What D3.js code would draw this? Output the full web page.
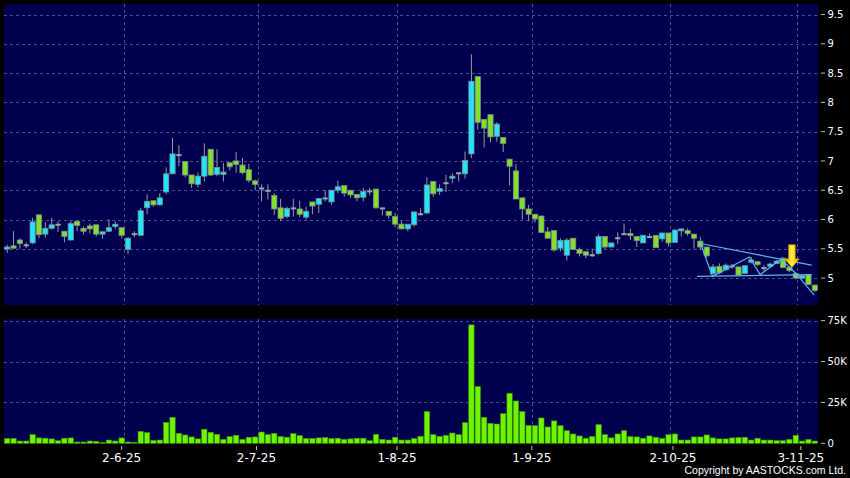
<!DOCTYPE html>
<html><head><meta charset="utf-8">
<script src="https://cdn.jsdelivr.net/npm/d3@7"></script>
<style>html,body{margin:0;padding:0;background:#000;}svg{display:block;}</style>
</head><body>
<script>
// ---- data ----
const opens  = [5.50,5.55,5.65,5.56,5.60,6.08,5.75,5.85,5.91,5.80,5.65,5.97,5.85,5.89,5.91,5.75,5.80,5.88,5.86,5.49,
                5.75,5.73,6.20,6.32,6.25,6.47,6.78,7.10,6.99,6.76,6.60,6.74,7.20,6.77,6.77,6.97,7.00,6.93,6.85,6.66,
                6.53,6.49,6.41,6.20,6.05,6.19,6.18,6.04,6.30,6.26,6.36,6.30,6.50,6.58,6.50,6.43,6.38,6.48,6.52,6.19,
                6.14,6.05,5.92,5.84,5.91,6.09,6.11,6.65,6.48,6.62,6.71,6.79,6.78,7.12,8.44,7.71,7.79,7.42,7.40,7.03,
                6.83,6.37,6.18,6.09,6.06,5.79,5.81,5.51,5.39,5.68,5.49,5.45,5.39,5.42,5.71,5.53,5.68,5.75,5.76,5.71,
                5.60,5.70,5.73,5.67,5.77,5.61,5.81,5.81,5.75,5.63,5.53,5.08,5.20,5.14,5.20,5.19,5.08,5.27,5.28,5.17,
                5.20,5.25,5.34,5.18,5.08,5.00,5.06,4.88];
const highs  = [5.57,5.80,5.68,5.61,6.03,6.08,5.96,6.03,5.97,5.80,5.97,5.98,5.88,5.93,5.91,5.80,6.00,5.97,5.86,5.70,
                5.80,6.20,6.43,6.33,6.45,6.89,7.39,7.27,6.99,6.76,6.80,7.30,7.20,7.20,6.97,6.97,7.15,7.05,6.95,6.68,
                6.60,6.60,6.45,6.35,6.22,6.35,6.32,6.22,6.30,6.36,6.50,6.50,6.66,6.58,6.50,6.43,6.54,6.54,6.52,6.19,
                6.14,6.11,5.97,5.92,6.13,6.19,6.72,6.65,6.60,6.76,6.79,6.79,7.16,8.82,8.44,7.71,7.79,7.66,7.40,7.03,
                6.95,6.37,6.25,6.09,6.06,5.87,5.81,5.68,5.68,5.68,5.52,5.45,5.50,5.75,5.71,5.60,5.78,5.93,5.84,5.71,
                5.73,5.76,5.73,5.77,5.77,5.83,5.84,5.85,5.75,5.70,5.53,5.24,5.25,5.25,5.24,5.20,5.22,5.36,5.29,5.22,
                5.26,5.31,5.36,5.20,5.10,5.05,5.06,4.89];
const lows   = [5.43,5.50,5.50,5.51,5.58,5.68,5.69,5.83,5.79,5.61,5.64,5.80,5.74,5.76,5.71,5.67,5.79,5.84,5.68,5.41,
                5.70,5.73,6.09,6.22,6.24,6.43,6.78,6.91,6.72,6.54,6.55,6.65,6.74,6.74,6.65,6.84,6.80,6.77,6.63,6.50,
                6.31,6.34,6.08,5.97,6.02,6.05,6.04,6.00,6.09,6.11,6.31,6.25,6.45,6.39,6.37,6.31,6.31,6.41,6.18,6.07,
                6.02,5.87,5.83,5.80,5.88,6.07,6.10,6.39,6.42,6.47,6.62,6.65,6.70,7.05,7.53,7.23,7.32,7.33,7.15,6.58,
                6.35,6.00,5.97,5.95,5.77,5.68,5.45,5.46,5.30,5.48,5.37,5.34,5.36,5.40,5.49,5.53,5.58,5.74,5.65,5.53,
                5.60,5.68,5.51,5.62,5.54,5.60,5.71,5.72,5.50,5.48,5.35,5.06,5.07,5.13,5.16,5.04,5.07,5.25,5.20,5.12,
                5.18,5.24,5.17,5.10,4.98,4.98,4.88,4.76];
const closes = [5.53,5.51,5.59,5.56,5.96,5.74,5.85,5.91,5.91,5.71,5.93,5.90,5.80,5.84,5.75,5.79,5.86,5.92,5.73,5.68,
                5.75,6.15,6.31,6.25,6.37,6.78,7.12,7.10,6.76,6.61,6.74,7.08,6.76,6.89,6.81,6.90,6.94,6.80,6.67,6.60,
                6.53,6.49,6.18,6.02,6.19,6.19,6.09,6.14,6.23,6.36,6.36,6.50,6.56,6.45,6.42,6.37,6.48,6.48,6.20,6.19,
                6.07,5.92,5.84,5.92,6.13,6.09,6.59,6.44,6.53,6.62,6.74,6.79,7.01,8.36,7.66,7.56,7.41,7.63,7.30,6.91,
                6.35,6.18,6.09,6.01,5.78,5.68,5.48,5.64,5.65,5.49,5.42,5.39,5.39,5.71,5.53,5.60,5.68,5.75,5.73,5.64,
                5.73,5.70,5.52,5.77,5.60,5.82,5.84,5.76,5.68,5.53,5.38,5.19,5.09,5.22,5.20,5.05,5.21,5.31,5.23,5.17,
                5.24,5.29,5.18,5.13,5.00,5.04,4.89,4.79];
const volumesK = [2.9,2.9,1.4,1.4,5.3,3.3,3.1,2.7,1.6,3.1,3.3,0.8,0.8,1.4,1.2,0.6,2.0,1.4,3.3,0.8,
                  0.6,7.3,6.5,1.8,2.0,12.8,15.9,6.1,5.1,3.9,2.7,8.6,6.7,5.5,2.4,4.1,4.9,2.4,3.7,3.9,
                  6.9,5.3,6.1,4.1,3.7,5.9,4.7,2.9,2.9,3.3,3.5,2.9,3.1,2.4,2.7,3.1,3.1,1.6,5.5,2.4,
                  2.0,3.7,2.0,2.0,2.9,4.3,19.4,5.3,4.3,4.9,6.3,5.3,12.6,72.4,34.7,15.9,12.2,11.8,18.1,30.6,
                  25.9,19.4,11.0,10.8,15.5,10.0,13.7,10.8,7.7,5.7,4.5,3.1,4.1,11.4,5.3,3.3,5.7,7.7,4.1,3.9,
                  3.1,4.5,3.7,2.9,5.3,5.7,2.0,2.0,3.9,3.9,5.1,3.3,2.7,2.7,3.3,3.5,3.7,2.0,3.1,2.0,
                  2.0,1.6,1.6,2.4,4.9,1.4,2.4,1.4];
const priceTicks  = [5, 5.5, 6, 6.5, 7, 7.5, 8, 8.5, 9, 9.5];
const volumeTicks = [0, 25, 50, 75];
const volumeTickLabels = ["0", "25K", "50K", "75K"];
const dateTickLabels = ["2-6-25", "2-7-25", "1-8-25", "1-9-25", "2-10-25", "3-11-25"];
const dateTickAt     = [18.0, 39.2, 61.3, 82.5, 104.7, 124.8];   // bar index
const dateGridAt     = [18.4, 39.5, 61.3, 82.5, 104.3, 124.2];   // bar index
// annotation (pattern lines drawn on the chart), in bar-index / price units
const upperTrend = [[109, 5.59], [126.5, 5.22]];
const lowerTrend = [[108.5, 5.03], [126.5, 5.06]];
const zigzag = [[109, 5.60], [110.9, 5.03], [116.7, 5.36], [118.4, 5.06], [121.7, 5.32], [124.1, 5.07], [126.9, 4.71]];
const arrowAt = {index: 123.4, top: 5.57, tip: 5.18};
const copyright = "Copyright by AASTOCKS.com Ltd.";

// ---- layout ----
const W = 850, H = 478;
const L = 4, R = 818;
const pTop = 4, pBot = 305, vTop = 319, vBot = 443.3;
const N = closes.length;

const svg = d3.select("body").append("svg").attr("width", W).attr("height", H);
svg.append("rect").attr("width", W).attr("height", H).attr("fill", "#000");

const xBand = d3.scaleBand().domain(d3.range(N)).range([L, R]).padding(0);
const xC = d3.scaleLinear().domain([-0.5, N - 0.5]).range([L, R]);
const yP = d3.scaleLinear().domain([4.54, 9.68]).range([pBot, pTop]);
const yV = d3.scaleLinear().domain([0, 76]).range([vBot, vTop]);

const navy = "#00004e";
svg.append("rect").attr("x", L).attr("y", pTop).attr("width", R - L).attr("height", pBot - pTop).attr("fill", navy);
svg.append("rect").attr("x", L).attr("y", vTop).attr("width", R - L).attr("height", vBot - vTop).attr("fill", navy);

const gridCol = "#4c4c8e";
const grid = svg.append("g").attr("stroke", gridCol).attr("stroke-width", 1).attr("stroke-dasharray", "3,3");
priceTicks.forEach(t => grid.append("line").attr("x1", L).attr("x2", R)
  .attr("y1", Math.round(yP(t)) + 0.5).attr("y2", Math.round(yP(t)) + 0.5));
volumeTicks.filter(t => t > 0).forEach(t => grid.append("line").attr("x1", L).attr("x2", R)
  .attr("y1", Math.round(yV(t)) + 0.5).attr("y2", Math.round(yV(t)) + 0.5));
dateGridAt.forEach(i => {
  const x = Math.round(xC(i)) + 0.5;
  grid.append("line").attr("x1", x).attr("x2", x).attr("y1", pTop).attr("y2", pBot);
  grid.append("line").attr("x1", x).attr("x2", x).attr("y1", vTop).attr("y2", vBot);
});

// ---- candles ----
const bw = xBand.bandwidth() * 0.82;
const cyan = "#1fe6ff", green = "#82e02c", doji = "#9aa3b5", wickCol = "#9a9a9a", edge = "#7d8c8c";
const cg = svg.append("g");
d3.range(N).forEach(i => {
  const cx = xC(i);
  const o = opens[i], c = closes[i];
  cg.append("line").attr("x1", cx).attr("x2", cx).attr("y1", yP(highs[i])).attr("y2", yP(lows[i]))
    .attr("stroke", wickCol).attr("stroke-width", 1);
  if (o === c) {
    cg.append("rect").attr("x", cx - bw / 2).attr("y", yP(o) - 1).attr("width", bw).attr("height", 2)
      .attr("fill", doji);
  } else {
    const top = yP(Math.max(o, c)), bot = yP(Math.min(o, c));
    cg.append("rect").attr("x", cx - bw / 2).attr("y", top).attr("width", bw).attr("height", Math.max(2, bot - top))
      .attr("fill", c > o ? cyan : green).attr("stroke", edge).attr("stroke-width", 0.8);
  }
});

// ---- pattern annotation ----
const line = d3.line().x(d => xC(d[0])).y(d => yP(d[1]));
const ann = svg.append("g").attr("fill", "none").attr("stroke", "#5fb4ea").attr("stroke-width", 1.2);
ann.append("path").attr("d", line(upperTrend));
ann.append("path").attr("d", line(lowerTrend));
ann.append("path").attr("d", line(zigzag));

// yellow arrow
const defs = svg.append("defs");
const gr = defs.append("linearGradient").attr("id", "arrowGrad").attr("x1", "0").attr("x2", "1").attr("y1", "0").attr("y2", "0");
gr.append("stop").attr("offset", "0%").attr("stop-color", "#f0a000");
gr.append("stop").attr("offset", "50%").attr("stop-color", "#fff23a");
gr.append("stop").attr("offset", "100%").attr("stop-color", "#f0a000");
const ax = xC(arrowAt.index), aTop = yP(arrowAt.top), aTip = yP(arrowAt.tip);
const headH = (aTip - aTop) * 0.38, shaftW = 3.4, headW = 7.4;
svg.append("path").attr("fill", "url(#arrowGrad)").attr("stroke", "#c98a00").attr("stroke-width", 0.6)
  .attr("d", `M${ax - shaftW},${aTop} L${ax + shaftW},${aTop} L${ax + shaftW},${aTip - headH} L${ax + headW},${aTip - headH} L${ax},${aTip} L${ax - headW},${aTip - headH} L${ax - shaftW},${aTip - headH} Z`);

// ---- volume ----
const vw = xBand.bandwidth() * 0.84;
svg.append("g").selectAll("rect").data(volumesK).join("rect")
  .attr("x", (d, i) => xC(i) - vw / 2).attr("y", d => yV(d)).attr("width", vw)
  .attr("height", d => vBot - yV(d))
  .attr("fill", "#6cf400").attr("stroke", "#3f9a00").attr("stroke-width", 0.6);

// ---- axes / labels ----
const font = "'DejaVu Sans', Verdana, sans-serif";
const axG = svg.append("g").attr("fill", "#fff").attr("font-family", font);
priceTicks.forEach(t => {
  const y = yP(t);
  svg.append("line").attr("x1", 821).attr("x2", 825).attr("y1", y).attr("y2", y).attr("stroke", "#bbb");
  axG.append("text").attr("x", 827.5).attr("y", y).attr("dy", "0.36em").attr("font-size", 10).text(t);
});
volumeTicks.forEach((t, k) => {
  const y = yV(t);
  svg.append("line").attr("x1", 821).attr("x2", 825).attr("y1", y).attr("y2", y).attr("stroke", "#bbb");
  axG.append("text").attr("x", 827.5).attr("y", y).attr("dy", "0.36em").attr("font-size", 10).text(volumeTickLabels[k]);
});
dateTickLabels.forEach((lab, k) => {
  const x = xC(dateTickAt[k]);
  svg.append("line").attr("x1", x).attr("x2", x).attr("y1", 446).attr("y2", 450).attr("stroke", "#bbb");
  axG.append("text").attr("x", x).attr("y", 462).attr("text-anchor", "middle").attr("font-size", 12).text(lab);
});
svg.append("text").attr("x", 846).attr("y", 474).attr("text-anchor", "end")
  .attr("font-family", "'Liberation Sans', Arial, sans-serif").attr("font-size", 10.5)
  .attr("fill", "#fff").text(copyright);
</script>
</body></html>
